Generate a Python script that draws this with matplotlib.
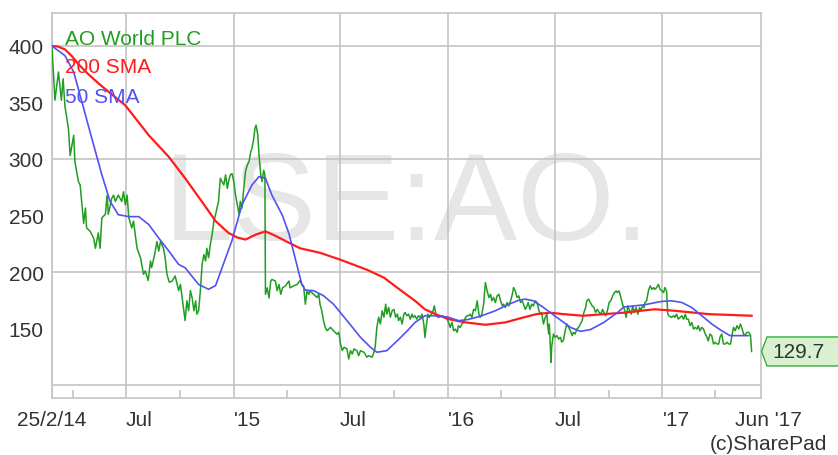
import pandas as pd
import matplotlib
matplotlib.use("Agg")
import matplotlib.pyplot as plt
import matplotlib.transforms as mtransforms
from matplotlib.path import Path

plt.rcParams['font.family'] = ['Liberation Sans', 'DejaVu Sans']

# ---- data ----
start = pd.Timestamp('2014-02-25')
end = pd.Timestamp('2017-06-18')

# days since start, closing price (p)
price_day = [
    0, 5, 11, 16, 19, 22, 28, 31, 37, 39, 45, 48, 51, 54, 57, 59, 65, 71, 74, 79,
    82, 85, 91, 94, 96, 102, 105, 108, 113, 119, 122, 125, 128, 131, 136, 139, 145, 151, 156, 159,
    164, 168, 170, 175, 179, 182, 185, 190, 193, 196, 200, 205, 210, 216, 219, 222, 227, 230, 233, 236,
    239, 242, 245, 247, 250, 253, 256, 259, 262, 264, 267, 270, 273, 276, 279, 284, 287, 290, 293, 296,
    299, 301, 304, 307, 310, 313, 316, 319, 321, 324, 327, 330, 333, 336, 339, 341, 344, 346, 348, 351,
    353, 356, 358, 361, 363, 364, 367, 370, 373, 375, 381, 384, 387, 390, 393, 398, 404, 406, 412, 418,
    423, 426, 429, 432, 435, 438, 440, 446, 452, 455, 457, 460, 463, 466, 469, 475, 480, 486, 489, 492,
    495, 498, 503, 506, 509, 512, 515, 520, 523, 526, 532, 537, 540, 546, 549, 551, 554, 557, 560, 563,
    566, 569, 571, 574, 577, 580, 583, 586, 589, 591, 594, 597, 600, 602, 605, 608, 611, 614, 616, 619,
    622, 625, 628, 631, 634, 636, 638, 641, 643, 647, 649, 652, 655, 659, 665, 671, 674, 676, 679, 682,
    685, 688, 691, 693, 696, 699, 702, 705, 708, 710, 713, 716, 719, 722, 725, 728, 730, 733, 736, 739,
    742, 745, 748, 750, 753, 756, 759, 762, 765, 768, 770, 773, 776, 779, 782, 785, 787, 790, 793, 796,
    799, 802, 807, 810, 812, 815, 818, 821, 824, 827, 830, 832, 835, 838, 841, 844, 845, 847, 848, 851,
    852, 855, 858, 861, 864, 867, 869, 872, 875, 878, 881, 884, 887, 889, 892, 895, 898, 901, 904, 907,
    910, 912, 915, 918, 921, 924, 927, 930, 933, 936, 939, 941, 944, 947, 950, 953, 956, 959, 962, 964,
    967, 970, 973, 976, 979, 982, 985, 988, 990, 993, 996, 999, 1002, 1004, 1007, 1010, 1011, 1014, 1017, 1020,
    1023, 1026, 1028, 1031, 1034, 1037, 1040, 1043, 1045, 1048, 1050, 1052, 1056, 1060, 1062, 1065, 1068, 1071, 1074, 1077,
    1080, 1082, 1085, 1088, 1091, 1094, 1097, 1100, 1102, 1105, 1108, 1111, 1114, 1117, 1119, 1122, 1125, 1128, 1131, 1134,
    1137, 1139, 1142, 1145, 1148, 1151, 1154, 1157, 1159, 1162, 1165, 1168, 1171, 1174, 1177, 1180, 1183, 1185, 1188, 1191,
    1193,
]
price = [
    399, 352, 377, 352, 371, 347, 327, 303, 321, 298, 280, 277, 259.5, 243, 256.6, 239, 236, 230, 221, 234.6,
    221, 248, 251, 268, 251, 265.4, 268, 262.5, 268, 262.5, 271, 259.5, 268, 248, 239, 245, 221, 212.6, 198, 201,
    192.5, 209.7, 204, 215.5, 227, 218.5, 227, 221, 212.6, 198, 191, 192, 196.5, 183.5, 189, 177, 157, 174.5, 165.7, 183.5,
    177, 165.7, 174.5, 162.7, 165.7, 183.5, 206.7, 215.5, 209.7, 221, 212.6, 224.3, 233, 245, 251, 262.7, 283, 280, 277, 286,
    274, 280, 286, 287, 280, 268, 259.5, 251, 262.5, 256.6, 274, 289, 294.7, 297.7, 306.5, 309.4, 318, 327, 330, 321,
    303.5, 286, 280, 290, 286, 180.3, 186, 177, 192, 193.4, 192, 183.5, 189, 180.3, 186, 187.7, 192, 186, 187.7, 189,
    192.5, 189, 187.7, 171.5, 183.3, 180.3, 183.3, 180.3, 177.4, 180.3, 171.5, 165.7, 157, 151, 148, 151, 148, 145, 146.6, 136.3,
    130.5, 133.4, 132, 123, 130.4, 127.5, 132, 130.4, 126, 130.4, 129, 124.6, 126, 124.6, 129, 133.4, 151, 160, 154, 165.7,
    160, 171.5, 162.7, 168.6, 160, 165.7, 167, 160, 162.7, 157, 160, 154, 162.7, 164.2, 161.3, 162.7, 158.3, 162.7, 159.8, 161.3,
    158.3, 161.3, 159.8, 162.7, 154, 142, 151, 162.7, 159.8, 162.7, 164.2, 170, 161.3, 159.8, 161.3, 159.8, 158.3, 155.4, 151, 155.4,
    148, 149.5, 146.6, 152.5, 151, 154, 155.4, 159.8, 161.3, 161.3, 162.7, 159.8, 167, 165.7, 174.5, 162.7, 159.8, 162.7, 171.5, 190.6,
    183.3, 177.4, 180.3, 174.5, 177.4, 173, 178.9, 180.3, 174.5, 170, 171.5, 168.6, 173, 170, 174.5, 180.3, 186.2, 183.3, 177.4, 178.9,
    173, 174.5, 167, 170, 173, 167, 171.5, 170, 174.5, 173, 167, 162.7, 164.2, 154, 159.8, 162.7, 154, 145.1, 154, 120,
    133.4, 145.1, 142.2, 143.7, 140.7, 142.2, 138, 139.3, 148, 154, 151, 148, 143.7, 146.6, 145.1, 149.5, 151, 154, 157, 164.2,
    168.6, 174.5, 176, 173, 170, 168.6, 164.2, 167, 164.2, 162.7, 167, 164.2, 161.3, 165.7, 173, 174.5, 178.9, 181.8, 183.3, 181.8,
    183.3, 177.4, 171.5, 167, 159.8, 170, 165.7, 162.7, 170, 164.2, 168.6, 162.7, 168.6, 165.7, 170, 168.6, 173, 174.5, 183.3, 187.7,
    184.7, 186.2, 184.7, 186.2, 189, 184.7, 183.3, 181.8, 186.2, 183.3, 162.7, 161.3, 159.8, 161.3, 159.8, 162.7, 158.3, 159.8, 161.3, 158.3,
    162.7, 158.3, 158.3, 152.5, 155.4, 149.5, 151, 149.5, 152.5, 148, 151, 149.5, 145.1, 142.2, 139, 145.1, 143.7, 136.3, 137.8, 136.3,
    136.3, 142.2, 145.1, 136.3, 136.3, 137.8, 136.3, 136.3, 142.2, 151, 148, 152.5, 149.5, 154, 149.5, 143.7, 145.1, 146.6, 146.6, 144.5,
    129.7,
]

sma200_day = [0, 10, 22, 34, 45, 60, 79, 100, 125, 165, 199, 227, 255, 279, 301, 316, 330, 347, 364, 381,
              401, 423, 457, 491, 537, 566, 589, 602, 619, 636, 654, 676, 705, 739, 773, 804, 826, 850, 872, 906,
              941, 975, 1009, 1028, 1062, 1120, 1193]
sma200 = [400, 399.5, 397, 391, 384, 376, 367, 358, 347.5, 321, 302, 283, 262.7, 245, 234.6, 230.5, 228.7, 233, 236, 232,
          226.7, 221, 217, 211, 202, 195, 186, 181, 174.5, 167, 162.7, 158.3, 155.4, 153.3, 155.4, 159.8, 162.7, 164, 162.7, 161.3,
          162.7, 164, 166, 167, 165.7, 162.7, 161.3]

sma50_day = [0, 22, 37, 51, 68, 85, 99, 113, 131, 148, 165, 182, 199, 216, 227, 250, 267, 279, 290, 307,
             324, 341, 353, 364, 375, 393, 404, 426, 432, 446, 463, 480, 503, 526, 543, 554, 571, 589, 606, 619,
             636, 659, 676, 693, 710, 733, 756, 779, 796, 807, 821, 838, 861, 884, 901, 918, 941, 964, 975, 993,
             1010, 1040, 1057, 1074, 1091, 1108, 1125, 1142, 1156, 1171, 1188]
sma50 = [400, 391.5, 377, 350.5, 318, 286, 262.5, 250.7, 249, 249, 242, 230, 218.7, 206.7, 203.8, 189, 184.7, 188, 203.8, 228,
         259.5, 277, 284.4, 283, 268, 250, 234, 189, 184, 183.5, 179, 171.5, 157, 142.2, 133.4, 129, 130.4, 139.3, 148, 155.4,
         161.3, 161.3, 160, 156.9, 158, 161.3, 165.7, 171.5, 175, 176, 174.5, 168.6, 159.8, 151, 147.5, 149, 155.4, 164, 169, 170,
         171, 174, 174.5, 173, 168.6, 161.3, 154, 148, 143.7, 143.7, 143.7]

last_price = 129.7

hgrid = [100, 200, 300, 400]
ylabels = [150, 200, 250, 300, 350, 400]
yminor = [150, 250, 350]
major_dates = ['2014-07-01', '2015-01-01', '2015-07-01', '2016-01-01', '2016-07-01', '2017-01-01']
major_labels = ['Jul', "'15", 'Jul', "'16", 'Jul', "'17"]
minor_dates = ['2014-04-01', '2014-10-01', '2015-04-01', '2015-10-01', '2016-04-01', '2016-10-01', '2017-04-01']

green = '#1f9e1f'
red = '#ff1c1c'
blue = '#5252f2'
gridc = '#c4c4c4'
textc = '#333333'


def to_dates(days):
    return start + pd.to_timedelta(days, unit='D')


def tag_box(x0, y0, width, height, mutation_size):
    pad = 0.24 * mutation_size
    x0, y0 = x0 - pad, y0 - pad
    w, h = width + 2 * pad, height + 2 * pad
    tip = 0.26 * mutation_size
    verts = [(x0 - tip, y0 + h / 2), (x0, y0), (x0 + w + 60, y0),
             (x0 + w + 60, y0 + h), (x0, y0 + h), (x0 - tip, y0 + h / 2)]
    codes = [Path.MOVETO] + [Path.LINETO] * 4 + [Path.CLOSEPOLY]
    return Path(verts, codes)


fig = plt.figure(figsize=(8.38, 4.56), dpi=100)
ax = fig.add_axes([52 / 838, (456 - 399) / 456, (761 - 52) / 838, (399 - 14) / 456])

ax.text(0.5, 0.497, 'LSE:AO.', transform=ax.transAxes, fontsize=90, color='#e6e6e6',
        ha='center', va='center', zorder=0.1)

for v in hgrid:
    ax.axhline(v, color=gridc, lw=1.2, zorder=0.5)

ax.plot(to_dates(price_day), price, color=green, lw=1.1, zorder=3)
ax.plot(to_dates(sma200_day), sma200, color=red, lw=1.6, zorder=4)
ax.plot(to_dates(sma50_day), sma50, color=blue, lw=1.2, zorder=5)

ax.set_xlim(start, end)
ax.set_ylim(88.5, 429.2)

# x axis
xt = [start] + [pd.Timestamp(d) for d in major_dates]
ax.set_xticks(xt)
ax.set_xticklabels(['25/2/14'] + major_labels)
for i, lab in enumerate(ax.get_xticklabels()):
    lab.set_horizontalalignment('center' if i == 0 else 'left')
ax.set_xticks([pd.Timestamp(d) for d in minor_dates], minor=True)
ax.tick_params(axis='x', which='major', length=0, pad=9, labelsize=15, labelcolor=textc)
ax.tick_params(axis='x', which='minor', direction='in', length=6, color=gridc, width=1.2)
ax.grid(axis='x', which='major', color=gridc, lw=1.2)
ax.set_axisbelow(True)

# y axis
ax.set_yticks(ylabels)
ax.set_yticks(yminor, minor=True)
ax.tick_params(axis='y', which='major', length=0, pad=6, labelsize=15, labelcolor=textc)
ax.tick_params(axis='y', which='minor', direction='in', length=6, color=gridc, width=1.2)

for s in ax.spines.values():
    s.set_color(gridc)
    s.set_linewidth(1.2)

# legend text
ax.text(0.018, 0.935, 'AO World PLC', transform=ax.transAxes, color=green, fontsize=15, va='center', zorder=6)
ax.text(0.018, 0.860, '200 SMA', transform=ax.transAxes, color=red, fontsize=15, va='center', zorder=6)
ax.text(0.018, 0.784, '50 SMA', transform=ax.transAxes, color=blue, fontsize=15, va='center', zorder=6)

# end label
ax.annotate("Jun '17", xy=(1.01, 0), xycoords='axes fraction', xytext=(0, -9),
            textcoords='offset points', ha='center', va='top', fontsize=15, color=textc)

# last price tag
trans = mtransforms.blended_transform_factory(ax.transAxes, ax.transData)
ax.text(1.0155, last_price, f'{last_price:.1f}', transform=trans, ha='left', va='center',
        fontsize=15, color=textc, clip_on=False,
        bbox=dict(boxstyle=tag_box, facecolor='#d8f1d0', edgecolor='#3aae3a', lw=1.0))

fig.text(827 / 838, 1 - 445 / 456, '(c)SharePad', ha='right', va='center', fontsize=15, color=textc)

fig.savefig('out.png', dpi=100)
